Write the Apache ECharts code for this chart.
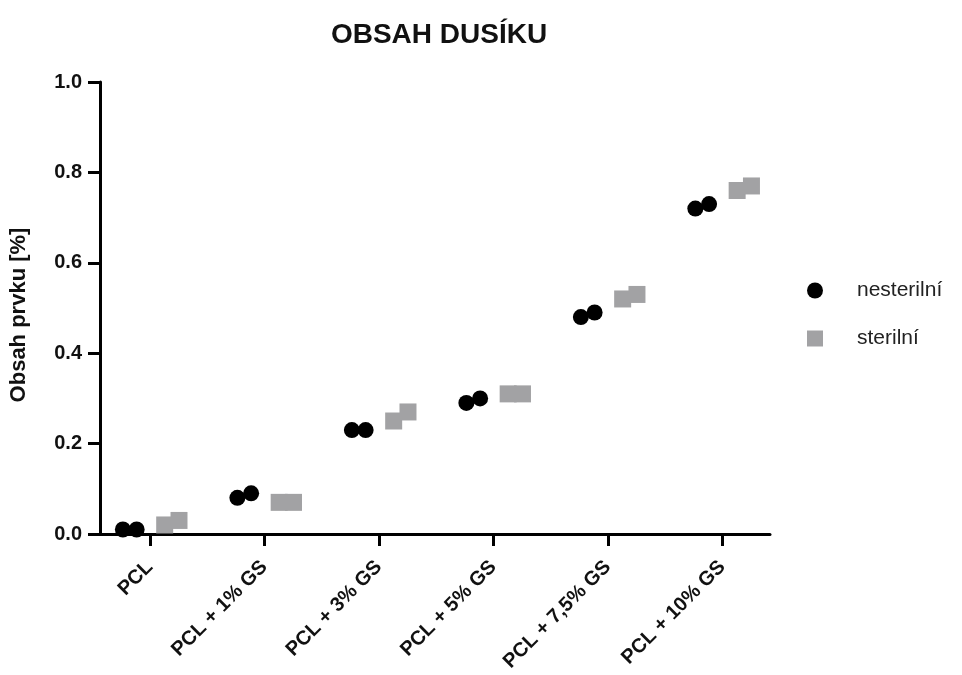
<!DOCTYPE html>
<html>
<head>
<meta charset="utf-8">
<script src="https://cdn.jsdelivr.net/npm/echarts@6/dist/echarts.min.js"></script>
<style>
  html, body { margin: 0; padding: 0; background: #fff; }
  #chart { width: 962px; height: 675px; }
</style>
</head>
<body>
<div id="chart"></div>
<script>
// Sample groups on the x axis
const categories = ['PCL', 'PCL + 1% GS', 'PCL + 3% GS', 'PCL + 5% GS', 'PCL + 7,5% GS', 'PCL + 10% GS'];

// Nitrogen content [%], two replicate measurements per sample
const nesterilniRep1 = [0.01, 0.08, 0.23, 0.29, 0.48, 0.72];
const nesterilniRep2 = [0.01, 0.09, 0.23, 0.30, 0.49, 0.73];
const sterilniRep1   = [0.02, 0.07, 0.25, 0.31, 0.52, 0.76];
const sterilniRep2   = [0.03, 0.07, 0.27, 0.31, 0.53, 0.77];

const yTicks = [0, 0.2, 0.4, 0.6, 0.8, 1.0];

// Horizontal spread of the replicates around each group's tick (in category units)
const circleOffsets = [-0.235, -0.115];
const squareOffsets = [0.13, 0.255];

function toPoints(reps, offsets) {
  const pts = [];
  categories.forEach((_, i) => {
    reps.forEach((arr, r) => pts.push([i + offsets[r], arr[i]]));
  });
  return pts;
}

const FONT = '"Liberation Sans", Arial, Helvetica, sans-serif';
const chart = echarts.init(document.getElementById('chart'), null, { renderer: 'canvas' });

chart.setOption({
  backgroundColor: '#ffffff',
  animation: false,
  title: {
    text: 'OBSAH DUSÍKU',
    left: 434,
    textAlign: 'center',
    top: 16,
    textStyle: { fontFamily: FONT, fontWeight: 'bold', fontSize: 28, color: '#111' }
  },
  legend: {
    orient: 'vertical',
    left: 802,
    top: 275,
    itemWidth: 16,
    itemHeight: 16,
    itemGap: 27,
    textStyle: { fontFamily: FONT, fontSize: 21, color: '#222', padding: [0, 0, 0, 29] },
    data: [
      { name: 'nesterilní', icon: 'circle' },
      { name: 'sterilní', icon: 'rect' }
    ]
  },
  grid: { left: 98, right: 192, top: 82, bottom: 141, containLabel: false },
  xAxis: {
    type: 'value',
    min: -0.435,
    max: 5.417,
    splitLine: { show: false },
    axisLine: { lineStyle: { color: '#000', width: 3 } },
    axisTick: {
      show: true, length: 12,
      lineStyle: { color: '#000', width: 3 },
      customValues: categories.map((_, i) => i)
    },
    axisLabel: {
      customValues: categories.map((_, i) => i),
      formatter: v => categories[Math.round(v)],
      rotate: 45,
      margin: 30,
      fontFamily: FONT, fontWeight: 'bold', fontSize: 20, color: '#111'
    }
  },
  yAxis: {
    type: 'value',
    min: 0,
    max: 1,
    interval: 0.2,
    name: 'Obsah prvku [%]',
    nameLocation: 'middle',
    nameGap: 70,
    nameRotate: 90,
    nameTextStyle: { fontFamily: FONT, fontWeight: 'bold', fontSize: 22, color: '#111', padding: [0, 14, 0, 0] },
    splitLine: { show: false },
    axisLine: { show: true, onZero: false, lineStyle: { color: '#000', width: 3 } },
    axisTick: { show: true, length: 12, lineStyle: { color: '#000', width: 3 } },
    axisLabel: {
      margin: 18,
      formatter: v => yTicks.includes(+v.toFixed(1)) ? v.toFixed(1) : '',
      fontFamily: FONT, fontWeight: 'bold', fontSize: 20, color: '#111'
    }
  },
  series: [
    {
      name: 'nesterilní',
      type: 'scatter',
      symbol: 'circle',
      symbolSize: 16,
      itemStyle: { color: '#000', opacity: 1 },
      data: toPoints([nesterilniRep1, nesterilniRep2], circleOffsets)
    },
    {
      name: 'sterilní',
      type: 'scatter',
      symbol: 'rect',
      symbolSize: 17,
      itemStyle: { color: '#a2a2a4', opacity: 1 },
      data: toPoints([sterilniRep1, sterilniRep2], squareOffsets)
    }
  ]
});
</script>
</body>
</html>
